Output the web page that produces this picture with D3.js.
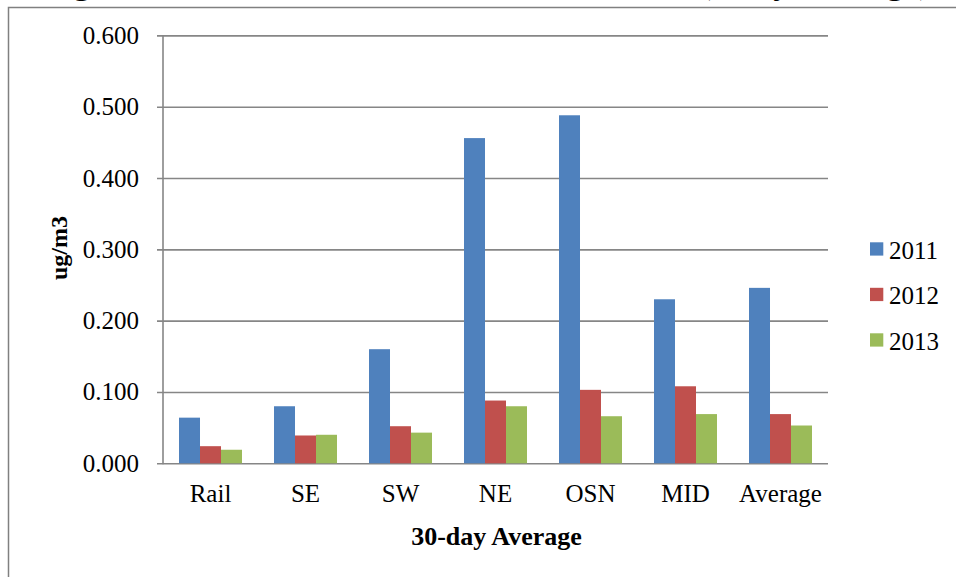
<!DOCTYPE html>
<html>
<head>
<meta charset="utf-8">
<script src="https://cdn.jsdelivr.net/npm/d3@7"></script>
<style>
  html, body { margin: 0; padding: 0; background: #ffffff; }
  svg { display: block; }
</style>
</head>
<body>
<div id="chart"></div>
<script>
// Sites along the x axis
const categories = ["Rail", "SE", "SW", "NE", "OSN", "MID", "Average"];
// Years shown in the legend
const seriesNames = ["2011", "2012", "2013"];
// Concentrations in ug/m3, one array per year
const values2011 = [0.064, 0.080, 0.160, 0.456, 0.488, 0.230, 0.246];
const values2012 = [0.024, 0.039, 0.052, 0.088, 0.103, 0.108, 0.069];
const values2013 = [0.019, 0.040, 0.043, 0.080, 0.066, 0.069, 0.053];
// Y axis ticks
const yTicks = [0, 0.1, 0.2, 0.3, 0.4, 0.5, 0.6];
const colors = ["#4F81BD", "#C0504D", "#9BBB59"];

const FONT = "Liberation Serif";

const seriesValues = [values2011, values2012, values2013];
const rows = categories.map((c, i) => ({
  category: c,
  values: seriesNames.map((s, k) => ({ series: s, k, value: seriesValues[k][i] }))
}));

const W = 956, H = 577;
const plot = { left: 163, right: 828, top: 35.4, bottom: 463.3 };
const gridColor = "#868686";

const svg = d3.select("#chart").append("svg")
  .attr("width", W).attr("height", H)
  .attr("font-family", FONT);

// Frame of the figure box
svg.append("path")
  .attr("d", `M8.5,${H} V7.5 H${W}`)
  .attr("fill", "none").attr("stroke", "#808080").attr("stroke-width", 1.5);

// Caption sitting above the frame (only its lowest strokes fall inside the page)
svg.append("text")
  .attr("x", 42).attr("y", -7.5)
  .attr("font-family", FONT)
  .attr("font-size", 35).attr("font-weight", "bold")
  .text("Figure 3. Lead Results at Each Site");
svg.append("text")
  .attr("x", 931).attr("y", -7.5).attr("text-anchor", "end")
  .attr("font-family", FONT)
  .attr("font-size", 35).attr("font-weight", "bold")
  .text("(Daily Average)");

const y = d3.scaleLinear().domain([0, 0.6]).range([plot.bottom, plot.top]);
const x0 = d3.scaleBand().domain(categories)
  .range([plot.left, plot.right]).paddingInner(0.337).paddingOuter(0.1685);
const x1 = d3.scaleBand().domain(seriesNames).range([0, x0.bandwidth()]);

// Horizontal gridlines with left tick marks, plus labels
const yAxis = d3.axisLeft(y).tickValues(yTicks)
  .tickFormat(d3.format(".3f"))
  .tickSize(-(plot.right - plot.left)).tickPadding(24);
const gy = svg.append("g").attr("transform", `translate(${plot.left},0)`).call(yAxis)
  .attr("font-family", FONT).attr("font-size", 25);
gy.select(".domain").remove();
gy.selectAll(".tick line")
  .attr("x1", -6).attr("x2", plot.right - plot.left)
  .attr("stroke", gridColor).attr("stroke-width", 1.6);
gy.selectAll(".tick text")
  .attr("font-family", FONT).attr("font-size", 25).attr("fill", "#000");

// Vertical axis line
svg.append("line")
  .attr("x1", plot.left).attr("x2", plot.left)
  .attr("y1", plot.top).attr("y2", plot.bottom + 1)
  .attr("stroke", gridColor).attr("stroke-width", 1.6);

// Bars
const groups = svg.append("g").selectAll("g").data(rows).join("g")
  .attr("transform", d => `translate(${x0(d.category)},0)`);
groups.selectAll("rect").data(d => d.values).join("rect")
  .attr("x", d => x1(d.series))
  .attr("width", x1.bandwidth())
  .attr("y", d => y(d.value))
  .attr("height", d => y(0) - y(d.value))
  .attr("fill", d => colors[d.k]);

// Category labels
const xAxis = d3.axisBottom(x0).tickSize(0).tickPadding(21);
const gx = svg.append("g").attr("transform", `translate(0,${plot.bottom})`).call(xAxis)
  .attr("font-family", FONT).attr("font-size", 25);
gx.select(".domain").remove();
gx.selectAll(".tick text")
  .attr("font-family", FONT).attr("font-size", 25).attr("fill", "#000");

// Axis titles
svg.append("text")
  .attr("x", (plot.left + plot.right) / 2 + 1).attr("y", 545)
  .attr("font-family", FONT)
  .attr("text-anchor", "middle").attr("font-size", 26).attr("font-weight", "bold")
  .text("30-day Average");
svg.append("text")
  .attr("transform", "translate(67,248) rotate(-90)")
  .attr("font-family", FONT)
  .attr("text-anchor", "middle").attr("font-size", 24).attr("font-weight", "bold")
  .text("ug/m3");

// Legend
const legend = svg.append("g").selectAll("g").data(seriesNames).join("g")
  .attr("transform", (d, i) => `translate(870,${242.3 + i * 45.5})`);
legend.append("rect").attr("width", 13.3).attr("height", 13.3)
  .attr("fill", (d, i) => colors[i]);
legend.append("text").attr("x", 19).attr("y", 16.5)
  .attr("font-family", FONT)
  .attr("font-size", 25).text(d => d);
</script>
</body>
</html>
